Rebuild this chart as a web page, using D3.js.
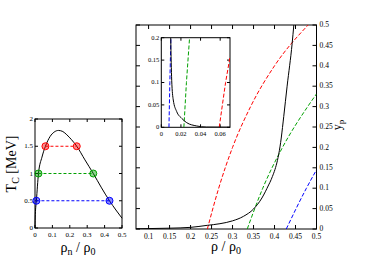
<!DOCTYPE html>
<html>
<head>
<meta charset="utf-8">
<script src="https://cdn.jsdelivr.net/npm/d3@7"></script>
<style>
  body { margin: 0; background: white; }
  text { font-family: "Liberation Serif", "DejaVu Serif", serif; fill: black; }
</style>
</head>
<body>
<div id="chart"></div>
<script>
// ---- data ----
// left panel: gap Tc vs neutron density
let tcRho = [0, 0.002, 0.008, 0.02, 0.04, 0.06, 0.087, 0.11, 0.135, 0.16, 0.183, 0.21, 0.24, 0.287, 0.335, 0.38, 0.428, 0.465, 0.5];
let tcVal = [0, 0.25, 0.5, 1.0, 1.3, 1.5, 1.68, 1.76, 1.79, 1.77, 1.71, 1.62, 1.5, 1.25, 1.0, 0.75, 0.5, 0.33, 0.18];
// marked temperatures and the two densities at each
let markT = [1.5, 1.0, 0.5];
let markLo = [0.06, 0.02, 0.008];
let markHi = [0.24, 0.335, 0.428];
let markColors = ["#ff0000", "#00a000", "#0000ff"];

// main panel: proton fraction vs total density
let ypRho = [0.07, 0.1, 0.15, 0.2, 0.24, 0.27, 0.3, 0.326, 0.35, 0.37, 0.386, 0.392, 0.416, 0.422, 0.43, 0.442, 0.446];
let ypVal = [0.0005, 0.001, 0.002, 0.004, 0.009, 0.013, 0.02, 0.031, 0.049, 0.076, 0.108, 0.121, 0.223, 0.276, 0.35, 0.455, 0.5];
// dashed curves (red, green, blue)
let redRho = [0.24, 0.267, 0.3, 0.343, 0.4, 0.48];
let redYp = [0, 0.1, 0.2, 0.3, 0.4, 0.5];
let greenRho = [0.335, 0.372, 0.419, 0.479, 0.5];
let greenYp = [0, 0.1, 0.2, 0.3, 0.331];
let blueRho = [0.428, 0.476, 0.5];
let blueYp = [0, 0.1, 0.145];

// inset: low density zoom
let inRho = [0.0096, 0.0106, 0.0122, 0.0157, 0.0208, 0.0259, 0.036, 0.046, 0.07];
let inYp = [0.2, 0.105, 0.061, 0.035, 0.02, 0.0103, 0.003, 0.0005, 0.0002];
let inRedRho = [0.059, 0.0655, 0.07];
let inRedYp = [0, 0.1, 0.157];
let inGreenRho = [0.023, 0.0256, 0.0288];
let inGreenYp = [0, 0.1, 0.2];
let inBlueRho = [0.0078, 0.0087, 0.0098];
let inBlueYp = [0, 0.1, 0.2];

let leftXTicks = [0, 0.1, 0.2, 0.3, 0.4, 0.5];
let leftYTicks = [0, 0.5, 1, 1.5, 2];
let mainXTicks = [0.1, 0.15, 0.2, 0.25, 0.3, 0.35, 0.4, 0.45, 0.5];
let mainYTicks = [0, 0.05, 0.1, 0.15, 0.2, 0.25, 0.3, 0.35, 0.4, 0.45, 0.5];
let inXTicks = [0, 0.02, 0.04, 0.06];
let inYTicks = [0, 0.05, 0.1, 0.15, 0.2];

let svg = d3.select("#chart").append("svg")
    .attr("width", 374)
    .attr("height", 265);

let zip = (xs, ys) => xs.map((x, i) => [x, ys[i]]);

// draw a box with inward ticks on all four sides
function frame(g, x, y, xt, yt, opts) {
    let [x0, x1] = x.range();
    let [y0, y1] = y.range();
    let tl = opts.tick;
    g.append("rect")
        .attr("x", x0).attr("y", y1)
        .attr("width", x1 - x0).attr("height", y0 - y1)
        .attr("fill", opts.bg || "none")
        .attr("stroke", "black")
        .attr("stroke-width", 1);
    xt.forEach(t => {
        g.append("line").attr("x1", x(t)).attr("x2", x(t)).attr("y1", y0).attr("y2", y0 - tl).attr("stroke", "black");
        g.append("line").attr("x1", x(t)).attr("x2", x(t)).attr("y1", y1).attr("y2", y1 + tl).attr("stroke", "black");
        g.append("text")
            .attr("x", x(t)).attr("y", y0 + opts.fs + 2)
            .attr("text-anchor", "middle")
            .style("font-size", opts.fs + "px")
            .text(t);
    });
    yt.forEach(t => {
        g.append("line").attr("x1", x0).attr("x2", x0 + tl).attr("y1", y(t)).attr("y2", y(t)).attr("stroke", "black");
        g.append("line").attr("x1", x1).attr("x2", x1 - tl).attr("y1", y(t)).attr("y2", y(t)).attr("stroke", "black");
        let right = opts.labelsRight;
        g.append("text")
            .attr("x", right ? x1 + 3 : x0 - 2).attr("y", y(t) + opts.fs * 0.3)
            .attr("text-anchor", right ? "start" : "end")
            .style("font-size", opts.fs + "px")
            .text(t);
    });
}

// ---------------- left panel ----------------
let xL = d3.scaleLinear().domain([0, 0.5]).range([35, 122]);
let yL = d3.scaleLinear().domain([0, 2]).range([228, 119]);
let gL = svg.append("g");
frame(gL, xL, yL, leftXTicks, leftYTicks, {tick: 3, fs: 7});

let lineL = d3.line().x(d => xL(d[0])).y(d => yL(d[1])).curve(d3.curveMonotoneX);
gL.append("path")
    .datum(zip(tcRho, tcVal))
    .attr("d", lineL)
    .attr("fill", "none")
    .attr("stroke", "black")
    .attr("stroke-width", 1);

markT.forEach((t, i) => {
    gL.append("line")
        .attr("x1", xL(markLo[i])).attr("x2", xL(markHi[i]))
        .attr("y1", yL(t)).attr("y2", yL(t))
        .attr("stroke", markColors[i])
        .attr("stroke-dasharray", "3,2");
    [markLo[i], markHi[i]].forEach(r => {
        gL.append("circle")
            .attr("cx", xL(r)).attr("cy", yL(t)).attr("r", 3.5)
            .attr("fill", markColors[i]).attr("fill-opacity", 0.45)
            .attr("stroke", markColors[i]).attr("stroke-width", 1);
    });
});

gL.append("text")
    .attr("x", 78).attr("y", 252)
    .attr("text-anchor", "middle")
    .style("font-size", "14px")
    .html('ρ<tspan font-size="10px" dy="3">n</tspan><tspan dy="-3"> / ρ</tspan><tspan font-size="10px" dy="3">0</tspan>');

gL.append("text")
    .attr("transform", "translate(16,164) rotate(-90)")
    .attr("text-anchor", "middle")
    .style("font-size", "14px")
    .html('T<tspan font-size="10px" dy="3">C</tspan><tspan dy="-3">  [MeV]</tspan>');

// ---------------- main panel ----------------
let xM = d3.scaleLinear().domain([0.07, 0.5]).range([136, 316.5]);
let yM = d3.scaleLinear().domain([0, 0.5]).range([229, 25]);
let gM = svg.append("g");
frame(gM, xM, yM, mainXTicks, mainYTicks, {tick: 4, fs: 7.5, labelsRight: true});

svg.append("clipPath").attr("id", "clipM")
    .append("rect").attr("x", 136).attr("y", 25).attr("width", 180.5).attr("height", 204);

let lineM = d3.line().x(d => xM(d[0])).y(d => yM(d[1])).curve(d3.curveMonotoneX);
let gMc = gM.append("g").attr("clip-path", "url(#clipM)");
[[redRho, redYp, markColors[0]], [greenRho, greenYp, markColors[1]], [blueRho, blueYp, markColors[2]]]
    .forEach(s => {
        gMc.append("path")
            .datum(zip(s[0], s[1]))
            .attr("d", lineM)
            .attr("fill", "none")
            .attr("stroke", s[2])
            .attr("stroke-dasharray", "4,2");
    });
gMc.append("path")
    .datum(zip(ypRho, ypVal))
    .attr("d", lineM)
    .attr("fill", "none")
    .attr("stroke", "black")
    .attr("stroke-width", 1);

gM.append("text")
    .attr("x", 226).attr("y", 251)
    .attr("text-anchor", "middle")
    .style("font-size", "14px")
    .html('ρ / ρ<tspan font-size="10px" dy="3">0</tspan>');

gM.append("text")
    .attr("transform", "translate(341,125) rotate(-90)")
    .attr("text-anchor", "middle")
    .style("font-size", "12px")
    .html('y<tspan font-size="9px" dy="3">p</tspan>');

// ---------------- inset ----------------
let xI = d3.scaleLinear().domain([0, 0.07]).range([161.3, 230]);
let yI = d3.scaleLinear().domain([0, 0.2]).range([127.3, 37.7]);
let gI = svg.append("g");
frame(gI, xI, yI, inXTicks, inYTicks, {tick: 3, fs: 6.5, bg: "white"});

svg.append("clipPath").attr("id", "clipI")
    .append("rect").attr("x", 161.3).attr("y", 37.7).attr("width", 68.7).attr("height", 89.6);

let lineI = d3.line().x(d => xI(d[0])).y(d => yI(d[1]));
let lineIc = d3.line().x(d => xI(d[0])).y(d => yI(d[1])).curve(d3.curveMonotoneX);
let gIc = gI.append("g").attr("clip-path", "url(#clipI)");
[[inRedRho, inRedYp, markColors[0]], [inGreenRho, inGreenYp, markColors[1]], [inBlueRho, inBlueYp, markColors[2]]]
    .forEach(s => {
        gIc.append("path")
            .datum(zip(s[0], s[1]))
            .attr("d", lineI)
            .attr("fill", "none")
            .attr("stroke", s[2])
            .attr("stroke-dasharray", "4,2");
    });
gIc.append("path")
    .datum(zip(inRho, inYp))
    .attr("d", lineIc)
    .attr("fill", "none")
    .attr("stroke", "black")
    .attr("stroke-width", 1);
</script>
</body>
</html>
